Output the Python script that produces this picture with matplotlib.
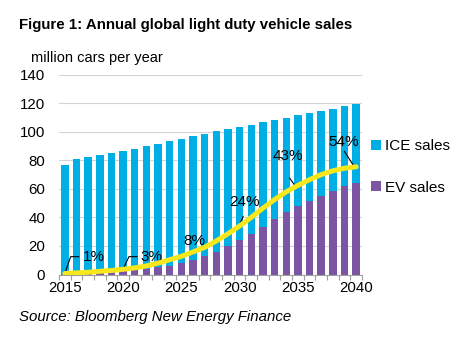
import numpy as np
import matplotlib
matplotlib.use("Agg")
import matplotlib.pyplot as plt

plt.rcParams['font.family'] = ['Liberation Sans', 'DejaVu Sans']

years = list(range(2015, 2041))
ev = [0.5, 0.8, 1.2, 1.7, 2.2, 2.7, 3.1, 3.7, 5.0, 6.3, 8.1, 10.0, 12.8,
      15.8, 19.8, 24.0, 28.7, 33.0, 38.7, 43.6, 47.8, 51.3, 55.3, 58.8, 61.8, 64.0]
ice = [76.3, 80.2, 81.2, 82.1, 83.0, 84.1, 85.1, 86.3, 86.7, 87.0, 87.1, 87.0, 85.9,
       84.5, 82.2, 79.4, 76.3, 73.6, 69.6, 66.4, 63.8, 61.7, 59.3, 57.4, 56.0, 55.7]
# EV share of sales, % (secondary scale 0-100)
share = [0.5, 0.8, 1.1, 1.6, 2.0, 2.6, 3.3, 4.3, 5.7, 7.4, 9.1, 11.3, 13.6,
         16.8, 20.4, 24.3, 28.6, 33.2, 37.5, 41.4, 44.6, 47.5, 50.0, 51.9, 53.2, 53.9]

# share labels: text, text pos (year, value), leader path
labels = [
    ("1%", (2016.55, 12.5), [(2015.0, 0.7), (2015.5, 12.5), (2016.2, 12.5)], "left"),
    ("3%", (2021.5, 12.5), [(2019.95, 2.9), (2020.5, 12.5), (2021.2, 12.5)], "left"),
    ("8%", (2026.1, 23.5), None, "center"),
    ("24%", (2030.45, 50.5), [(2029.9, 33.5), (2030.3, 40.5)], "center"),
    ("43%", (2034.1, 83.0), [(2034.3, 67.5), (2034.9, 60.5)], "center"),
    ("54%", (2038.9, 92.8), [(2039.0, 86.1), (2039.85, 75.4)], "center"),
]

c_ice = "#00aee6"
c_ev = "#7b55a4"
c_line = "#f8e71c"

fig = plt.figure(figsize=(4.55, 3.38), dpi=100)
ax = fig.add_axes([59/455, 1-274.5/338, (362-59)/455, (274.5-74.7)/338])

ax.bar(years, ev, width=0.64, color=c_ev, label="EV sales", zorder=2)
ax.bar(years, ice, width=0.64, bottom=ev, color=c_ice, label="ICE sales", zorder=2)

ax.set_xlim(2014.5, 2040.5)
ax.set_ylim(0, 140)
ax.set_yticks(range(0, 141, 20))
ax.set_xticks(range(2015, 2041, 5))
ax.set_xticks(np.arange(2014.5, 2041, 1), minor=True)
ax.tick_params(axis="x", which="major", length=0, labelsize=10.8, pad=5)
ax.tick_params(axis="x", which="minor", length=3.5, color="#a0a0a0", width=0.8)
ax.tick_params(axis="y", length=0, labelsize=10.8, pad=10)
ax.yaxis.grid(True, color="#d4d4d4", linewidth=0.8, zorder=0)
ax.set_axisbelow(True)
for s in ["top", "right", "left"]:
    ax.spines[s].set_visible(False)
ax.spines["bottom"].set_color("#a0a0a0")
ax.spines["bottom"].set_linewidth(0.8)

ax2 = ax.twinx()
ax2.set_ylim(0, 100)
ax2.plot(years, share, color=c_line, linewidth=3.6, solid_capstyle="round", zorder=3)
ax2.axis("off")

for txt, pos, path, ha in labels:
    if path:
        ax.plot([p[0] for p in path], [p[1] for p in path], color="black",
                linewidth=0.8, zorder=4)
    ax.text(pos[0], pos[1], txt, ha=ha, va="center", fontsize=11, zorder=5)

h, l = ax.get_legend_handles_labels()
fig.legend(h[::-1], l[::-1], loc="upper left", bbox_to_anchor=(371/455, 1-139/338),
           frameon=False, fontsize=11, handlelength=0.65, handleheight=0.65,
           handletextpad=0.25, labelspacing=1.8, borderpad=0, borderaxespad=0)

fig.text(19/455, 1-25/338, "Figure 1: Annual global light duty vehicle sales",
         fontsize=10.8, fontweight="bold", va="center", ha="left")
fig.text(31/455, 1-58/338, "million cars per year", fontsize=10.55, va="center", ha="left")
fig.text(19/455, 1-317/338, "Source: Bloomberg New Energy Finance", fontsize=10.85,
         style="italic", va="center", ha="left")

fig.savefig("out.png", dpi=100)
